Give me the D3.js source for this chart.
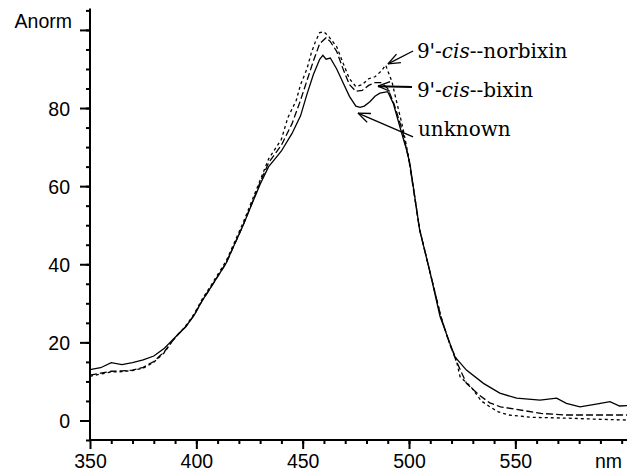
<!DOCTYPE html>
<html>
<head>
<meta charset="utf-8">
<script src="https://cdn.jsdelivr.net/npm/d3@7"></script>
<style>
  html, body { margin: 0; padding: 0; background: #fff; }
  svg { display: block; }
  .tick-label { font-family: 'Liberation Sans', Arial, sans-serif; font-size: 19.5px; fill: #000; }
  .note { font-family: 'DejaVu Serif', 'Liberation Serif', serif; font-size: 20px; fill: #000; }
</style>
</head>
<body>
<div id="chart"></div>
<script>
// Wavelength grids (nm) and absorbance (Anorm)
const unknownNm = [350, 355, 360, 365, 370, 375, 380, 385, 388, 391, 395, 399, 403, 406, 414, 422, 430, 434, 437, 440, 445, 449, 452, 455, 458, 459.5, 461, 463, 466, 469, 472, 475, 477, 479, 481.6, 484, 486.3, 490, 492.6, 495.7, 499, 500.4, 505, 510, 514.6, 519.2, 521.6, 527, 535, 542.7, 550.6, 561.6, 569.4, 574, 580.4, 588, 594.5, 599, 603];
const unknownVal = [13, 13.5, 14.8, 14.3, 14.8, 15.5, 16.5, 18.5, 20.2, 21.8, 24, 27, 30.9, 33.4, 40.3, 50, 60.5, 65, 67, 69, 73.5, 78, 83.5, 88.5, 92.5, 93.5, 92.5, 92.8, 90, 86.5, 83, 80.5, 80.2, 80.5, 81.6, 83, 83.8, 84.2, 81.2, 75.2, 69, 65.8, 48.8, 37.7, 26.6, 19.8, 16.3, 12.9, 9.5, 7.0, 5.7, 5.2, 5.7, 4.4, 3.5, 4.2, 4.8, 3.7, 3.8];

const bixinNm = [350, 355, 360, 365, 370, 375, 380, 385, 388, 391, 395, 399, 403, 406, 414, 422, 430, 434, 440, 445, 449, 452, 455, 458, 461, 463, 466, 469, 472, 475, 478, 481, 484, 487, 490, 493, 497, 500, 505, 510, 515, 519, 522, 527, 533, 538, 543, 550, 562, 574, 590, 603];
const bixinVal = [11.6, 12.1, 12.6, 12.7, 12.9, 13.6, 15.1, 17.6, 19.8, 21.8, 24, 27, 30.9, 33.4, 40.3, 50, 61, 66, 70.5, 76, 82, 87, 92, 96.5, 98, 97, 94.5, 90, 86, 84.3, 84.5, 85.8, 86.5, 86.5, 85, 81, 74, 66.5, 48.8, 37.7, 26.6, 19.8, 15.5, 9.5, 6.5, 4.5, 3.5, 2.9, 1.8, 1.4, 1.4, 1.4];

const norbixinNm = [350, 355, 360, 365, 370, 375, 380, 385, 388, 391, 395, 399, 403, 406, 414, 422, 430, 434, 440, 443, 447, 449, 452, 454, 456, 458, 460, 462, 466, 469, 472, 475, 478, 481, 484, 487, 489, 492, 494, 497, 500, 505, 510, 515, 519, 522, 524, 529, 534, 538, 542, 547, 558, 574, 590, 603];
const norbixinVal = [11.3, 11.9, 12.4, 12.5, 12.8, 13.4, 14.9, 17.4, 19.8, 21.8, 24.2, 27.3, 31.3, 33.8, 40.8, 50.6, 61.5, 67, 72, 77.5, 82, 86, 90, 94, 97, 99.3, 99.5, 98.5, 95.7, 91.5, 87.5, 85.5, 86, 87.5, 88, 89.5, 91, 86.7, 82, 75.2, 67, 49, 37.7, 26.6, 19.8, 16, 11.2, 8.7, 5, 3.5, 2.2, 1.4, 0.8, 0.6, 0.3, 0.1];

// Axis ticks
const xMajor = [350, 400, 450, 500, 550];
const xMinor = d3.range(360, 601, 10);
const yMajor = [0, 20, 40, 60, 80, 100];
const yMinor = d3.range(-5, 106, 5);

// Annotations: arrow tail, arrow tip, label anchor (data units)
const noteNames = ['norbixin', 'bixin', 'unknown'];
const noteTail = [[501.9, 94.6], [501.4, 85.4], [501.9, 72.6]];
const noteTip = [[490.1, 91.3], [485.4, 85.6], [476.0, 78.7]];
const noteAt = [[503.7, 92.9], [503.7, 82.8], [504.2, 72.9]];

const width = 627, height = 473;

const svg = d3.select('#chart').append('svg')
  .attr('width', width)
  .attr('height', height);

const x = d3.scaleLinear().domain([350, 602.5]).range([90, 627]);
const y = d3.scaleLinear().domain([-5, 105]).range([440, 10.4]);

// minor ticks first, then major with labels
svg.append('g')
  .attr('transform', `translate(0,${y(-5)})`)
  .call(d3.axisBottom(x).tickValues(xMinor).tickSize(4).tickFormat(''))
  .call(g => g.select('.domain').remove())
  .call(g => g.selectAll('line').attr('stroke-width', 2));

const xAxis = svg.append('g')
  .attr('transform', `translate(0,${y(-5)})`)
  .call(d3.axisBottom(x).tickValues(xMajor).tickSizeInner(9).tickSizeOuter(0).tickPadding(5))
  .call(g => g.select('.domain').attr('stroke-width', 2).attr('d', `M${x(350)},0H${width}`))
  .call(g => g.selectAll('line').attr('stroke-width', 2));
xAxis.selectAll('text')
  .attr('class', 'tick-label')
  .attr('font-family', null)
  .attr('font-size', null);

svg.append('g')
  .attr('transform', `translate(${x(350)},0)`)
  .call(d3.axisLeft(y).tickValues(yMinor).tickSize(4).tickFormat(''))
  .call(g => g.select('.domain').remove())
  .call(g => g.selectAll('line').attr('stroke-width', 2));

const yAxis = svg.append('g')
  .attr('transform', `translate(${x(350)},0)`)
  .call(d3.axisLeft(y).tickValues(yMajor).tickSizeInner(10).tickSizeOuter(0).tickPadding(10)
    .tickFormat(d => d === 100 ? '' : String(d)))
  .call(g => g.select('.domain').attr('stroke-width', 2).attr('d', `M0,${y(-5) + 1}V${y(105) - 2}`))
  .call(g => g.selectAll('line').attr('stroke-width', 2));
yAxis.selectAll('text')
  .attr('class', 'tick-label')
  .attr('font-family', null)
  .attr('font-size', null)
  .attr('dy', '0.36em');

// axis unit labels
svg.append('text')
  .attr('class', 'tick-label')
  .attr('x', 72)
  .attr('y', y(100) - 2)
  .attr('text-anchor', 'end')
  .text('Anorm');

svg.append('text')
  .attr('class', 'tick-label')
  .attr('x', 595)
  .attr('y', 468)
  .text('nm');

// spectra
const line = d3.line()
  .x(d => x(d[0]))
  .y(d => y(d[1]));

const series = [
  { nm: unknownNm, val: unknownVal, dash: null },
  { nm: bixinNm, val: bixinVal, dash: '7,3' },
  { nm: norbixinNm, val: norbixinVal, dash: '3,3' }
];

series.forEach(s => {
  svg.append('path')
    .datum(d3.zip(s.nm, s.val))
    .attr('fill', 'none')
    .attr('stroke', '#000')
    .attr('stroke-width', 1.3)
    .attr('stroke-dasharray', s.dash)
    .attr('d', line);
});

// arrows with open heads
noteTail.forEach((t, i) => {
  const x1 = x(t[0]), y1 = y(t[1]);
  const x2 = x(noteTip[i][0]), y2 = y(noteTip[i][1]);
  const ang = Math.atan2(y1 - y2, x1 - x2);
  const len = 13, spread = 0.38;
  svg.append('line')
    .attr('x1', x1).attr('y1', y1)
    .attr('x2', x2).attr('y2', y2)
    .attr('stroke', '#000')
    .attr('stroke-width', i === 1 ? 2 : 1.3);
  [-spread, spread].forEach(a => {
    svg.append('line')
      .attr('x1', x2).attr('y1', y2)
      .attr('x2', x2 + len * Math.cos(ang + a))
      .attr('y2', y2 + len * Math.sin(ang + a))
      .attr('stroke', '#000')
      .attr('stroke-width', 1.3);
  });
});

// labels: 9'-cis--name, unknown
noteAt.forEach((p, i) => {
  const t = svg.append('text')
    .attr('class', 'note')
    .attr('x', x(p[0]))
    .attr('y', y(p[1]));
  if (noteNames[i] === 'unknown') {
    t.text('unknown');
  } else {
    t.append('tspan').text("9'-");
    t.append('tspan').attr('font-style', 'italic').text('cis');
    t.append('tspan').text('--' + noteNames[i]);
  }
});
</script>
</body>
</html>
